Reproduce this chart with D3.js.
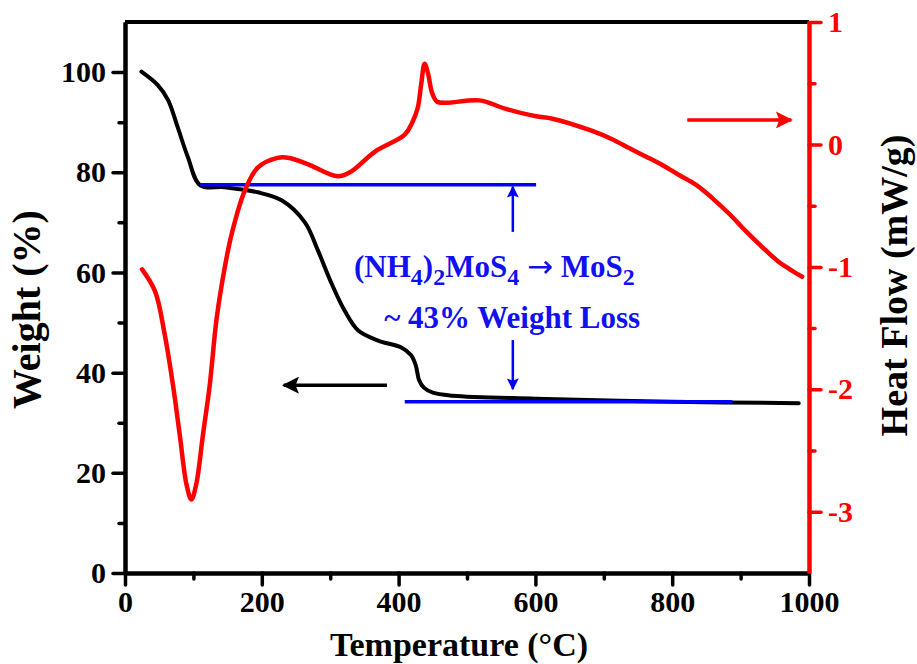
<!DOCTYPE html>
<html>
<head>
<meta charset="utf-8">
<script src="https://cdn.jsdelivr.net/npm/d3@7"></script>
<style>
  body { margin: 0; background: #fff; }
  text { font-family: "Liberation Serif", "Times New Roman", serif; font-weight: bold; }
</style>
</head>
<body>
<svg width="917" height="664"></svg>
<script>
//data
var tgaTemp   = [24, 48, 63, 77, 92, 110, 146, 194, 229, 263, 282, 302, 321, 341, 370, 404, 418, 425, 430, 437, 450, 479, 600, 800, 985];
var tgaWeight = [100.1, 97.4, 94.4, 89, 83, 77.4, 77, 76, 74.4, 70, 64.4, 57.8, 52.4, 48.4, 46.4, 45, 43.5, 41.5, 38.5, 37, 36, 35.4, 34.8, 34.2, 33.9];

var dscTemp = [25, 44, 58, 70, 80, 90, 97, 104, 114, 124, 134, 146, 156, 175, 194, 223, 240, 267, 311, 331, 365, 409, 420, 428, 433, 438, 443, 449, 456, 470, 518, 557, 601, 625, 683, 713, 737, 762, 786, 810, 835, 859, 884, 908, 932, 956, 975, 990];
var dscHeat = [-1.02, -1.2, -1.55, -1.96, -2.37, -2.78, -2.9, -2.78, -2.37, -1.96, -1.42, -1.0, -0.73, -0.38, -0.19, -0.11, -0.11, -0.16, -0.26, -0.22, -0.06, 0.08, 0.18, 0.3, 0.49, 0.66, 0.58, 0.42, 0.35, 0.34, 0.36, 0.29, 0.23, 0.21, 0.11, 0.04, -0.03, -0.1, -0.17, -0.25, -0.33, -0.44, -0.57, -0.71, -0.84, -0.96, -1.03, -1.08];

var xTicks = [0, 200, 400, 600, 800, 1000];
var xMinor = [100, 300, 500, 700, 900];
var weightTicks = [0, 20, 40, 60, 80, 100];
var weightMinor = [10, 30, 50, 70, 90];
var heatTicks = [-3, -2, -1, 0, 1];
var heatMinor = [-2.5, -1.5, -0.5, 0.5];

//guide lines and arrows (data units)
var stepLines = [ { t0: 110, t1: 601, w: 77.5 }, { t0: 409, t1: 888, w: 34.2 } ];
var lossArrows = [ { t: 567, from: 68.1, to: 77.1 }, { t: 567, from: 46.5, to: 36.7 } ];
var weightArrow = { from: 383, to: 232, w: 37.5 };
var heatArrow = { from: 822, to: 974, h: 0.2 };

var svg = d3.select("svg"),
    margin = { top: 22, right: 108, bottom: 91, left: 125 },
    width = +svg.attr("width") - margin.left - margin.right,
    height = +svg.attr("height") - margin.top - margin.bottom;

var g = svg.append("g").attr("transform", "translate(" + margin.left + "," + margin.top + ")");

var x = d3.scaleLinear().domain([0, 1000]).range([0, width]);
var yW = d3.scaleLinear().domain([0, 110]).range([height, 0]);
var yH = d3.scaleLinear().domain([-3.5, 1]).range([height, 0]);

//arrow heads
var defs = svg.append("defs");
function addHead(id, colour, w, l) {
  defs.append("marker")
      .attr("id", id)
      .attr("viewBox", "0 -5 10 10")
      .attr("refX", 9)
      .attr("refY", 0)
      .attr("markerUnits", "userSpaceOnUse")
      .attr("markerWidth", l)
      .attr("markerHeight", w)
      .attr("orient", "auto")
    .append("path")
      .attr("d", "M0,-5L10,0L0,5L2,0Z")
      .attr("fill", colour);
}
addHead("head-black", "black", 17, 26);
addHead("head-red", "red", 17, 26);
addHead("head-blue", "blue", 12, 16);

//weight curve
var tga = tgaTemp.map(function (t, i) { return [t, tgaWeight[i]]; });
var dsc = dscTemp.map(function (t, i) { return [t, dscHeat[i]]; });

g.append("path")
    .datum(tga)
    .attr("fill", "none")
    .attr("stroke", "black")
    .attr("stroke-width", 4)
    .attr("stroke-linecap", "round")
    .attr("d", d3.line().curve(d3.curveCatmullRom.alpha(0.5))
      .x(function (d) { return x(d[0]); })
      .y(function (d) { return yW(d[1]); }));

//blue step lines
g.selectAll(".step")
    .data(stepLines)
    .enter().append("line")
      .attr("x1", function (d) { return x(d.t0); })
      .attr("x2", function (d) { return x(d.t1); })
      .attr("y1", function (d) { return yW(d.w); })
      .attr("y2", function (d) { return yW(d.w); })
      .attr("stroke", "blue")
      .attr("stroke-width", 3.5);

g.selectAll(".loss")
    .data(lossArrows)
    .enter().append("line")
      .attr("x1", function (d) { return x(d.t); })
      .attr("x2", function (d) { return x(d.t); })
      .attr("y1", function (d) { return yW(d.from); })
      .attr("y2", function (d) { return yW(d.to); })
      .attr("stroke", "blue")
      .attr("stroke-width", 2.5)
      .attr("marker-end", "url(#head-blue)");

//heat flow curve
g.append("path")
    .datum(dsc)
    .attr("fill", "none")
    .attr("stroke", "red")
    .attr("stroke-width", 4.5)
    .attr("stroke-linecap", "round")
    .attr("d", d3.line().curve(d3.curveCatmullRom.alpha(0.5))
      .x(function (d) { return x(d[0]); })
      .y(function (d) { return yH(d[1]); }));

//which curve goes with which axis
g.append("line")
    .attr("x1", x(weightArrow.from)).attr("x2", x(weightArrow.to))
    .attr("y1", yW(weightArrow.w)).attr("y2", yW(weightArrow.w))
    .attr("stroke", "black").attr("stroke-width", 3.5)
    .attr("marker-end", "url(#head-black)");

g.append("line")
    .attr("x1", x(heatArrow.from)).attr("x2", x(heatArrow.to))
    .attr("y1", yH(heatArrow.h)).attr("y2", yH(heatArrow.h))
    .attr("stroke", "red").attr("stroke-width", 3.5)
    .attr("marker-end", "url(#head-red)");

//annotation
var note = g.append("text")
    .attr("x", x(540))
    .attr("y", yW(59))
    .attr("text-anchor", "middle")
    .attr("fill", "#1010f0")
    .style("font-size", "31px");
note.append("tspan").text("(NH");
note.append("tspan").attr("dy", 8).style("font-size", "24px").text("4");
note.append("tspan").attr("dy", -8).text(")");
note.append("tspan").attr("dy", 8).style("font-size", "24px").text("2");
note.append("tspan").attr("dy", -8).text("MoS");
note.append("tspan").attr("dy", 8).style("font-size", "24px").text("4");
note.append("tspan").attr("dy", -8).text(" ");
note.append("tspan").style("font-family", "DejaVu Sans").style("font-weight", "normal").text("\u2192");
note.append("tspan").text(" MoS");
note.append("tspan").attr("dy", 8).style("font-size", "24px").text("2");

g.append("text")
    .attr("x", x(566))
    .attr("y", yW(49))
    .attr("text-anchor", "middle")
    .attr("fill", "#1010f0")
    .style("font-size", "31px")
    .text("~ 43% Weight Loss");

//axes
function styleAxis(sel, colour) {
  sel.select(".domain").attr("stroke", colour).attr("stroke-width", 4);
  sel.selectAll(".tick line").attr("stroke", colour).attr("stroke-width", 3.5).attr("stroke-linecap", "round");
  sel.selectAll(".tick text").attr("fill", colour).style("font-size", "30px");
}

//top frame line
g.append("line")
    .attr("x1", 0).attr("x2", width)
    .attr("y1", 0).attr("y2", 0)
    .attr("stroke", "black").attr("stroke-width", 4);

var xMinAx = g.append("g").attr("transform", "translate(0," + height + ")")
    .call(d3.axisBottom(x).tickValues(xMinor).tickSize(6).tickSizeOuter(0).tickFormat(""));
styleAxis(xMinAx, "black");
var xAx = g.append("g").attr("transform", "translate(0," + height + ")")
    .call(d3.axisBottom(x).tickValues(xTicks).tickSize(12).tickSizeOuter(0).tickPadding(6).tickFormat(d3.format("d")));
styleAxis(xAx, "black");

var yMinAx = g.append("g")
    .call(d3.axisLeft(yW).tickValues(weightMinor).tickSize(6).tickSizeOuter(0).tickFormat(""));
styleAxis(yMinAx, "black");
var yAx = g.append("g")
    .call(d3.axisLeft(yW).tickValues(weightTicks).tickSize(12).tickSizeOuter(0).tickPadding(7));
styleAxis(yAx, "black");

var hMinAx = g.append("g").attr("transform", "translate(" + width + ",0)")
    .call(d3.axisRight(yH).tickValues(heatMinor).tickSize(6).tickSizeOuter(0).tickFormat(""));
styleAxis(hMinAx, "red");
var hAx = g.append("g").attr("transform", "translate(" + width + ",0)")
    .call(d3.axisRight(yH).tickValues(heatTicks).tickSize(12).tickSizeOuter(0).tickPadding(7)
      .tickFormat(function (d) { return d < 0 ? "-" + Math.abs(d) : d; }));
styleAxis(hAx, "red");

//axis titles
g.append("text")
    .attr("x", width / 2 - 8)
    .attr("y", height + 83)
    .attr("text-anchor", "middle")
    .style("font-size", "34px")
    .text("Temperature (\u00b0C)");

g.append("text")
    .attr("transform", "translate(" + (-85) + "," + (height / 2 + 12) + ")rotate(-90)")
    .attr("text-anchor", "middle")
    .style("font-size", "40px")
    .text("Weight (%)");

g.append("text")
    .attr("transform", "translate(" + (width + 98) + "," + (height / 2 - 12) + ")rotate(-90)")
    .attr("text-anchor", "middle")
    .style("font-size", "38px")
    .text("Heat Flow (mW/g)");
</script>
</body>
</html>
